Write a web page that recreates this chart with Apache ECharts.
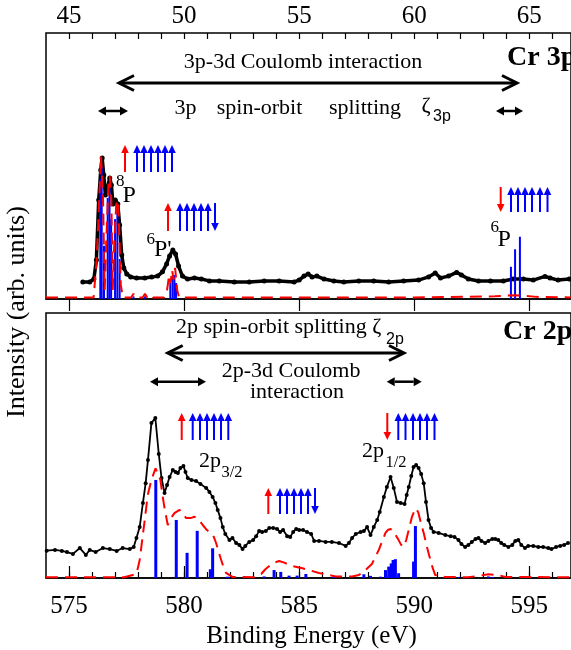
<!DOCTYPE html>
<html>
<head>
<meta charset="utf-8">
<script src="https://cdn.jsdelivr.net/npm/echarts@6/dist/echarts.min.js"></script>
<style>
  html, body { margin: 0; padding: 0; background: #fff; }
  #chart { width: 571px; height: 650px; }
</style>
</head>
<body>
<div id="chart"></div>
<script>
// ---- data (energies in eV, intensities in arb. units 0..100 of panel height) ----
// Cr 3p panel
var exp3p = [
  [45.60,6.4],[45.90,6.4],[46.08,7.5],[46.19,14.7],[46.29,37.2],[46.38,48.5],[46.44,53.0],
  [46.51,46.6],[46.58,39.1],[46.66,41.7],[46.77,45.5],[46.84,42.9],[46.91,35.7],[47.01,37.2],
  [47.12,35.7],[47.20,27.8],[47.29,16.5],[47.38,11.7],[47.51,9.4],[47.68,8.3],[47.94,7.9],
  [48.29,7.9],[48.59,8.3],[48.85,8.6],[49.06,10.2],[49.24,13.2],[49.37,16.2],[49.51,18.4],
  [49.63,16.9],[49.76,12.4],[49.93,8.6],[50.15,7.5],[50.45,7.9],[50.75,7.5],[51.10,6.8],
  [51.53,6.8],[52.18,6.4],[52.83,6.4],[53.48,6.8],[54.13,6.8],[54.78,6.4],[55.00,7.1],
  [55.21,8.6],[55.39,9.4],[55.56,8.3],[55.77,8.6],[56.08,7.5],[56.51,6.8],[56.94,6.4],
  [57.59,6.8],[58.24,6.8],[58.89,6.4],[59.54,6.8],[60.19,7.1],[60.62,8.3],[60.91,9.8],
  [61.14,7.9],[61.49,8.6],[61.84,10.0],[62.05,9.0],[62.35,7.5],[62.79,6.8],[63.31,6.8],
  [63.87,6.8],[64.30,7.5],[64.74,7.5],[65.17,7.1],[65.68,8.5],[65.90,7.9],[66.25,7.1],[66.73,7.5]
];
var calc3p = [
  [44.0,0.6],[45.5,0.6],[46.07,0.6],[46.20,14.7],[46.31,37.2],[46.39,53.8],[46.48,37.2],
  [46.55,3.4],[46.62,22.2],[46.71,42.9],[46.77,46.2],[46.84,37.2],[46.90,3.4],[46.97,22.2],
  [47.05,35.3],[47.12,37.2],[47.18,25.9],[47.25,5.3],[47.34,0.6],[47.70,0.6],[47.80,2.0],
  [47.90,0.6],[48.20,0.6],[48.30,2.0],[48.40,0.6],[48.55,1.5],[48.65,0.6],[49.13,0.6],
  [49.26,3.4],[49.35,9.0],[49.41,6.0],[49.48,10.9],[49.54,7.1],[49.61,11.7],[49.70,3.4],
  [49.78,0.6],[55.0,0.6],[60.0,0.6],[63.5,1.0],[64.3,1.4],[64.8,1.2],[65.3,0.8],[66.8,0.6]
];
var lines3p = [
  [46.36,45],[46.42,50],[46.52,20],[46.68,38],[46.76,42],[46.83,30],[47.00,30],[47.10,33],
  [47.20,15],[47.80,1],[48.30,1],[49.40,6],[49.50,8],[49.58,9],[49.65,6],
  [64.20,12.1],[64.38,18.7],[64.59,23.4]
];

// Cr 2p panel
var exp2p = [
  [574.03,10.3],[574.39,10.6],[574.69,10.2],[574.91,9.8],[575.17,9.1],[575.47,11.3],[575.73,8.7],
  [575.90,10.6],[576.16,9.8],[576.47,11.3],[576.77,10.9],[577.07,10.2],[577.33,11.3],[577.64,10.9],
  [577.81,11.7],[577.93,15.1],[578.07,19.2],[578.21,28.3],[578.33,35.8],[578.43,44.5],[578.58,58.5],
  [578.75,60.4],[578.90,46.8],[579.02,37.7],[579.15,32.1],[579.26,35.1],[579.37,38.1],[579.51,40.8],
  [579.63,40.0],[579.73,39.6],[579.84,41.5],[579.97,42.3],[580.06,40.0],[580.16,37.7],[580.32,37.0],
  [580.52,36.6],[580.71,35.5],[580.96,34.0],[581.10,32.5],[581.24,30.6],[581.36,28.3],[581.46,25.7],
  [581.58,22.6],[581.68,19.2],[581.79,16.6],[581.97,14.3],[582.10,15.1],[582.26,13.2],[582.40,12.5],
  [582.54,10.9],[582.66,12.1],[582.83,13.6],[583.00,14.3],[583.13,15.8],[583.26,17.7],[583.39,17.4],
  [583.55,17.7],[583.70,18.9],[583.87,18.9],[584.04,18.5],[584.17,17.4],[584.30,18.1],[584.48,15.8],
  [584.61,15.5],[584.74,17.4],[584.87,18.5],[585.00,18.1],[585.17,18.1],[585.34,17.4],[585.52,16.6],
  [585.65,14.0],[585.86,14.0],[586.15,13.6],[586.42,13.6],[586.73,13.2],[587.02,12.1],[587.16,13.2],
  [587.30,15.1],[587.46,16.6],[587.67,17.4],[587.81,17.7],[587.95,19.2],[588.10,16.2],[588.24,19.2],
  [588.39,21.9],[588.50,24.9],[588.68,30.6],[588.81,34.3],[588.97,38.1],[589.11,34.0],[589.25,28.7],
  [589.41,28.3],[589.58,27.9],[589.67,31.3],[589.76,34.3],[589.87,38.5],[589.97,41.9],[590.08,42.6],
  [590.19,41.5],[590.30,39.2],[590.41,35.8],[590.51,28.7],[590.62,21.9],[590.73,18.9],[590.84,17.4],
  [591.06,17.0],[591.35,16.2],[591.58,15.8],[591.75,15.5],[591.92,14.3],[592.05,12.8],[592.21,11.7],
  [592.35,12.5],[592.50,13.6],[592.66,14.7],[592.79,15.1],[592.92,14.0],[593.08,13.2],[593.22,14.0],
  [593.39,14.7],[593.52,14.7],[593.65,14.3],[593.78,13.2],[593.91,12.5],[594.09,11.7],[594.26,12.5],
  [594.39,14.0],[594.52,14.3],[594.65,12.5],[594.81,11.3],[594.95,12.1],[595.17,12.1],[595.39,11.7],
  [595.60,11.7],[595.82,11.3],[595.96,10.9],[596.16,11.7],[596.34,12.1],[596.51,12.5],[596.68,13.2]
];
var calc2p = [
  [574.0,0.3],[577.4,0.3],[577.93,1.5],[578.07,6.8],[578.29,21.9],[578.42,31.3],[578.58,37.0],
  [578.76,41.4],[578.97,37.0],[579.06,31.3],[579.15,26.4],[579.29,20.0],[579.43,22.6],[579.58,24.5],
  [579.80,25.7],[579.95,24.2],[580.09,22.6],[580.28,22.6],[580.45,23.1],[580.62,22.3],[580.81,20.0],
  [580.99,18.1],[581.17,17.0],[581.29,15.5],[581.39,13.2],[581.49,10.2],[581.61,6.8],[581.71,4.2],
  [581.82,1.9],[582.10,0.4],[583.09,0.3],[583.35,1.5],[583.52,3.2],[583.70,4.5],[583.91,5.8],
  [584.13,6.4],[584.35,5.8],[584.71,4.5],[585.14,3.7],[585.86,1.9],[586.58,0.6],[587.30,0.6],
  [587.59,1.1],[587.88,3.0],[588.16,5.3],[588.46,10.6],[588.61,14.0],[588.75,17.0],[588.85,18.1],
  [588.97,18.5],[589.09,17.7],[589.19,16.2],[589.32,14.3],[589.43,12.5],[589.54,11.8],[589.65,14.3],
  [589.76,18.1],[589.90,23.1],[590.05,26.3],[590.17,24.9],[590.28,21.1],[590.41,17.0],[590.54,12.1],
  [590.70,6.8],[590.80,3.8],[590.91,1.1],[591.35,0.4],[592.35,0.3],[592.79,0.8],[593.22,1.4],
  [593.65,1.1],[593.96,0.4],[596.73,0.3]
];
var lines2p = [
  [578.77,37.0],[579.66,21.9],[580.13,9.5],[580.57,17.8],[581.14,3.3],[581.24,11.2],[581.89,0.5],
  [583.48,0.6],[583.91,3.0],[584.20,2.3],[584.56,0.9],[584.91,0.9],[585.29,1.5],[586.47,0.4],
  [587.81,1.4],[588.10,0.8],[588.53,0.5],[588.75,3.0],[588.89,4.3],[589.00,5.5],[589.08,6.8],
  [589.18,7.1],[589.32,1.8],[589.97,6.2],[590.05,19.6],[591.92,0.4],[593.22,0.6],[593.39,0.4]
];

var majorTop = [45, 50, 55, 60, 65];
var minorTop = [45,46,47,48,49,50,51,52,53,54,55,56,57,58,59,60,61,62,63,64,65,66];
var majorBottom = [575, 580, 585, 590, 595];
var minorBottom = [575,576,577,578,579,580,581,582,583,584,585,586,587,588,589,590,591,592,593,594,595,596];

// ---- helpers ----
var SERIF = '"Liberation Serif", "Times New Roman", serif';
var SANS = '"Liberation Sans", Arial, sans-serif';
var RED = '#ff0000', BLUE = '#0000ff';

function txt(str, x, y, size, opts) {
  opts = opts || {};
  var align = opts.align || 'left';
  return {
    type: 'text', x: x, y: y, z: 100, rotation: opts.rotation || 0,
    style: {
      text: str, fill: '#000',
      font: (opts.bold ? 'bold ' : '') + size + 'px ' + (opts.family || SERIF),
      textAlign: align, textVerticalAlign: 'middle', align: align, verticalAlign: 'middle'
    }
  };
}

function spin(x, yTop, yBot, up, color) {
  var head = 8, hw = 3.8;
  var tip = up ? yTop : yBot;
  var base = up ? yTop + head : yBot - head;
  return [
    { type: 'line', z: 100, shape: { x1: x, y1: up ? base : yTop, x2: x, y2: up ? yBot : base },
      style: { stroke: color, lineWidth: 2 } },
    { type: 'polygon', z: 100, shape: { points: [[x, tip], [x - hw, base], [x + hw, base]] },
      style: { fill: color } }
  ];
}

function spinGroup(xs, dirs, colors, yTop, yBot) {
  var out = [];
  for (var i = 0; i < xs.length; i++) out = out.concat(spin(xs[i], yTop, yBot, dirs[i], colors[i]));
  return out;
}

function dbl(x1, x2, y) {
  var h = 8, hw = 4.5;
  return [
    { type: 'line', z: 100, shape: { x1: x1 + h, y1: y, x2: x2 - h, y2: y }, style: { stroke: '#000', lineWidth: 2.5 } },
    { type: 'polygon', z: 100, shape: { points: [[x1, y], [x1 + h, y - hw], [x1 + h, y + hw]] }, style: { fill: '#000' } },
    { type: 'polygon', z: 100, shape: { points: [[x2, y], [x2 - h, y - hw], [x2 - h, y + hw]] }, style: { fill: '#000' } }
  ];
}

function bigArrow(x1, x2, y) {
  var s = { stroke: '#000', lineWidth: 3, fill: null };
  return [
    { type: 'line', z: 100, shape: { x1: x1 + 1, y1: y, x2: x2 - 1, y2: y }, style: s },
    { type: 'polyline', z: 100, shape: { points: [[x1 + 15, y - 7.5], [x1, y], [x1 + 15, y + 7.5]] }, style: s },
    { type: 'polyline', z: 100, shape: { points: [[x2 - 15, y - 7.5], [x2, y], [x2 - 15, y + 7.5]] }, style: s }
  ];
}

function upN(n) { var a = []; for (var i = 0; i < n; i++) a.push(true); return a; }
function colN(c, n) { var a = []; for (var i = 0; i < n; i++) a.push(c); return a; }

var graphics = [];
// top panel
graphics.push(txt('3p-3d Coulomb interaction', 303, 62, 22, { align: 'center' }));
graphics = graphics.concat(bigArrow(119, 517, 83));
graphics.push(txt('3p', 185.5, 108, 22, { align: 'center' }));
graphics.push(txt('spin-orbit', 259.5, 108, 22, { align: 'center' }));
graphics.push(txt('splitting', 365, 108, 22, { align: 'center' }));
graphics.push(txt('\u03b6', 426, 106, 22, { align: 'center' }));
graphics.push(txt('3p', 433, 117, 16, { family: SANS }));
graphics = graphics.concat(dbl(98, 128, 111), dbl(496, 523, 111));
graphics.push(txt('Cr 3p', 507, 58, 28, { bold: true }));
graphics = graphics.concat(spinGroup([125, 137, 144, 151, 158, 165, 172], upN(7), [RED].concat(colN(BLUE, 6)), 145, 172));
graphics = graphics.concat(spinGroup([168, 180, 187, 194, 201, 208, 215], [true, true, true, true, true, true, false], [RED].concat(colN(BLUE, 6)), 203, 231));
graphics = graphics.concat(spinGroup([500.7, 511, 518, 525, 532, 540, 547.5], [false, true, true, true, true, true, true], [RED].concat(colN(BLUE, 6)), 187, 212));
graphics.push(txt('8', 116, 182, 17));
graphics.push(txt('P', 122.5, 196, 24));
graphics.push(txt('6', 146.5, 240, 17));
graphics.push(txt("P'", 154, 250, 24));
graphics.push(txt('6', 490.5, 227.5, 17));
graphics.push(txt('P', 497.5, 240, 24));
// bottom panel
graphics.push(txt('2p spin-orbit splitting \u03b6', 176, 327, 22));
graphics.push(txt('2p', 386, 340, 16, { family: SANS }));
graphics = graphics.concat(bigArrow(167.7, 404, 353));
graphics.push(txt('2p-3d Coulomb', 221.7, 371.7, 22));
graphics.push(txt('interaction', 250, 392.5, 22));
graphics = graphics.concat(dbl(150, 206, 381.7), dbl(386.7, 421.7, 381.7));
graphics.push(txt('Cr 2p', 503, 331.7, 28, { bold: true }));
graphics = graphics.concat(spinGroup([181.7, 192.7, 200, 207, 214, 221, 228.3], upN(7), [RED].concat(colN(BLUE, 6)), 413, 440));
graphics = graphics.concat(spinGroup([268.3, 280, 287, 294, 301, 308, 315], [true, true, true, true, true, true, false], [RED].concat(colN(BLUE, 6)), 488, 514));
graphics = graphics.concat(spinGroup([387.3, 398.3, 405.5, 413, 420, 427, 434.5], [false, true, true, true, true, true, true], [RED].concat(colN(BLUE, 6)), 413, 440));
graphics.push(txt('2p', 199, 461, 22));
graphics.push(txt('3/2', 221.5, 473, 16.5));
graphics.push(txt('2p', 362, 451, 22));
graphics.push(txt('1/2', 385.5, 463, 16.5));
// axis names
graphics.push(txt('Binding Energy (eV)', 311.5, 636, 25, { align: 'center' }));
graphics.push(txt('Intensity (arb. units)', 17, 312, 26, { align: 'center', rotation: Math.PI / 2 }));

// ---- chart ----
var chart = echarts.init(document.getElementById('chart'));

function stickSeries(data, xi, yi, w) {
  return {
    type: 'custom', xAxisIndex: xi, yAxisIndex: yi, data: data, z: 3,
    encode: { x: 0, y: 1 },
    renderItem: function (params, api) {
      var top = api.coord([api.value(0), api.value(1)]);
      var base = api.coord([api.value(0), 0]);
      return { type: 'rect', shape: { x: top[0] - w / 2, y: top[1], width: w, height: base[1] - top[1] },
               style: { fill: BLUE } };
    }
  };
}

function xAxes(gi, pos, min, max, major, minor, margin) {
  return [
    { gridIndex: gi, type: 'value', position: pos, min: min, max: max,
      axisLine: { show: true, lineStyle: { color: '#000', width: 1.5 } },
      axisTick: { show: true, inside: true, length: 12, customValues: major, lineStyle: { color: '#000', width: 1.2 } },
      axisLabel: { show: true, customValues: major, margin: margin, color: '#000', fontSize: 25, fontFamily: SERIF },
      splitLine: { show: false } },
    { gridIndex: gi, type: 'value', position: pos, min: min, max: max,
      axisLine: { show: false },
      axisTick: { show: true, inside: true, length: 6, customValues: minor, lineStyle: { color: '#000', width: 1.2 } },
      axisLabel: { show: false }, splitLine: { show: false } }
  ];
}

var option = {
  animation: false,
  backgroundColor: '#fff',
  grid: [
    { left: 46, right: -2, top: 33, height: 266, show: true, borderColor: '#000', borderWidth: 1.5, backgroundColor: 'transparent' },
    { left: 46, right: -2, top: 313, height: 265, show: true, borderColor: '#000', borderWidth: 1.5, backgroundColor: 'transparent' }
  ],
  xAxis: xAxes(0, 'top', 44, 66.81, majorTop, minorTop, 4)
    .concat(xAxes(1, 'bottom', 574, 596.81, majorBottom, minorBottom, 16)),
  yAxis: [
    { gridIndex: 0, type: 'value', min: 0, max: 100, show: false },
    { gridIndex: 1, type: 'value', min: 0, max: 100, show: false }
  ],
  series: [
    { type: 'line', xAxisIndex: 0, yAxisIndex: 0, data: exp3p, z: 2,
      symbol: 'circle', symbolSize: 5, showAllSymbol: true,
      itemStyle: { color: '#000' }, lineStyle: { color: '#000', width: 3.5 } },
    stickSeries(lines3p, 0, 0, 2),
    { type: 'line', xAxisIndex: 0, yAxisIndex: 0, data: calc3p, z: 4, symbol: 'none',
      lineStyle: { color: RED, width: 2, type: [12, 7] } },
    { type: 'line', xAxisIndex: 2, yAxisIndex: 1, data: exp2p, z: 2,
      symbol: 'circle', symbolSize: 4, showAllSymbol: true,
      itemStyle: { color: '#000' }, lineStyle: { color: '#000', width: 1.8 } },
    stickSeries(lines2p, 2, 1, 3),
    { type: 'line', xAxisIndex: 2, yAxisIndex: 1, data: calc2p, z: 4, symbol: 'none',
      lineStyle: { color: RED, width: 2, type: [12, 7] } }
  ],
  graphic: graphics
};
chart.setOption(option);
</script>
</body>
</html>
